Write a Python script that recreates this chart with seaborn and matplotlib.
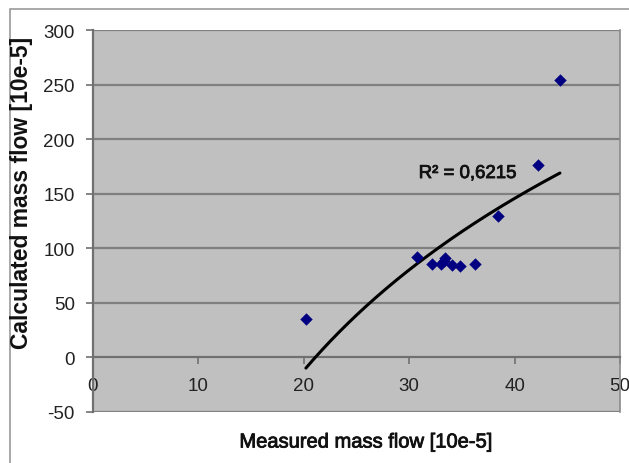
import numpy as np
import pandas as pd
import matplotlib
matplotlib.use("Agg")
import matplotlib.pyplot as plt
import matplotlib.patheffects as pe
import seaborn as sns
from matplotlib.patches import Rectangle

# Data
measured = [20.2, 30.7, 32.2, 33.0, 33.3, 33.4, 34.1, 34.8, 36.2, 38.4, 42.2, 44.3]
calculated = [35.5, 91.8, 85.4, 85.7, 88.7, 90.9, 85.0, 83.6, 86.0, 129.2, 176.2, 254.3]
x_ticks = [0, 10, 20, 30, 40, 50]
y_ticks = [-50, 0, 50, 100, 150, 200, 250, 300]
r2_label = "R² = 0,6215"
x_label = "Measured mass flow [10e-5]"
y_label = "Calculated mass flow [10e-5]"

sns.set_style("ticks")
plt.rcParams['font.family'] = ['Liberation Sans', 'DejaVu Sans']
plt.rcParams['axes.unicode_minus'] = False

df = pd.DataFrame({"measured": measured, "calculated": calculated})

# logarithmic trendline fitted to the data
a, b = np.polyfit(np.log(df["measured"]), df["calculated"], 1)
xs = np.linspace(min(measured), max(measured), 200)
trend = pd.DataFrame({"x": xs, "y": a * np.log(xs) + b})

fig = plt.figure(figsize=(6.29, 4.64), dpi=100)
fig.patch.set_facecolor("white")
# chart area border
fig.add_artist(Rectangle((10 / 629, -0.2), 1.0, 1.2 - 10 / 464,
                         transform=fig.transFigure, fill=False,
                         edgecolor="#9a9a9a", linewidth=1.2))

ax = fig.add_axes([93 / 629, (464 - 413) / 464, (620 - 93) / 629, (413 - 31) / 464])
ax.set_facecolor("#C0C0C0")

for yv in y_ticks:
    if yv != 0:
        ax.axhline(yv, color="#808080", linewidth=1.6, zorder=1)

sns.lineplot(data=trend, x="x", y="y", color="black", linewidth=2.2, ax=ax, zorder=3)
sns.scatterplot(data=df, x="measured", y="calculated", marker="D", s=40,
                color="#000080", edgecolor="#000080", linewidth=0, ax=ax, zorder=4)

ax.set_xlim(0, 50)
ax.set_ylim(-50, 300)
ax.set_xticks(x_ticks)
ax.set_yticks(y_ticks)

ax.spines["bottom"].set_position(("data", 0))
ax.spines["bottom"].set_color("#707070")
ax.spines["bottom"].set_linewidth(1.6)
ax.spines["left"].set_color("#707070")
ax.spines["left"].set_linewidth(1.6)
ax.spines["right"].set_visible(True)
ax.spines["right"].set_color("#8a8a8a")
ax.spines["right"].set_linewidth(1.2)
ax.spines["top"].set_visible(False)

ax.tick_params(axis="x", direction="out", length=5, width=1.2, color="#707070",
               pad=9, labelsize=13.5, labelcolor="#222222")
ax.tick_params(axis="y", direction="out", length=5, width=1.2, color="#707070",
               pad=8, labelsize=13.5, labelcolor="#222222")

ax.set_xlabel("")
ax.set_ylabel("")
thick = [pe.withStroke(linewidth=0.6, foreground="#111111")]
fig.text(366 / 629, 1 - 443 / 464, x_label, ha="center", va="center",
         fontsize=14.5, color="#111111", path_effects=thick)
fig.text(22 / 629, 1 - 193 / 464, y_label, ha="center", va="center",
         rotation=90, fontsize=16.5, fontweight="bold", color="#111111")

ax.text(30.9, 168.5, r2_label, ha="left", va="center", fontsize=13.4,
        color="#111111", zorder=5, path_effects=thick)

fig.savefig("out.png", dpi=100)
